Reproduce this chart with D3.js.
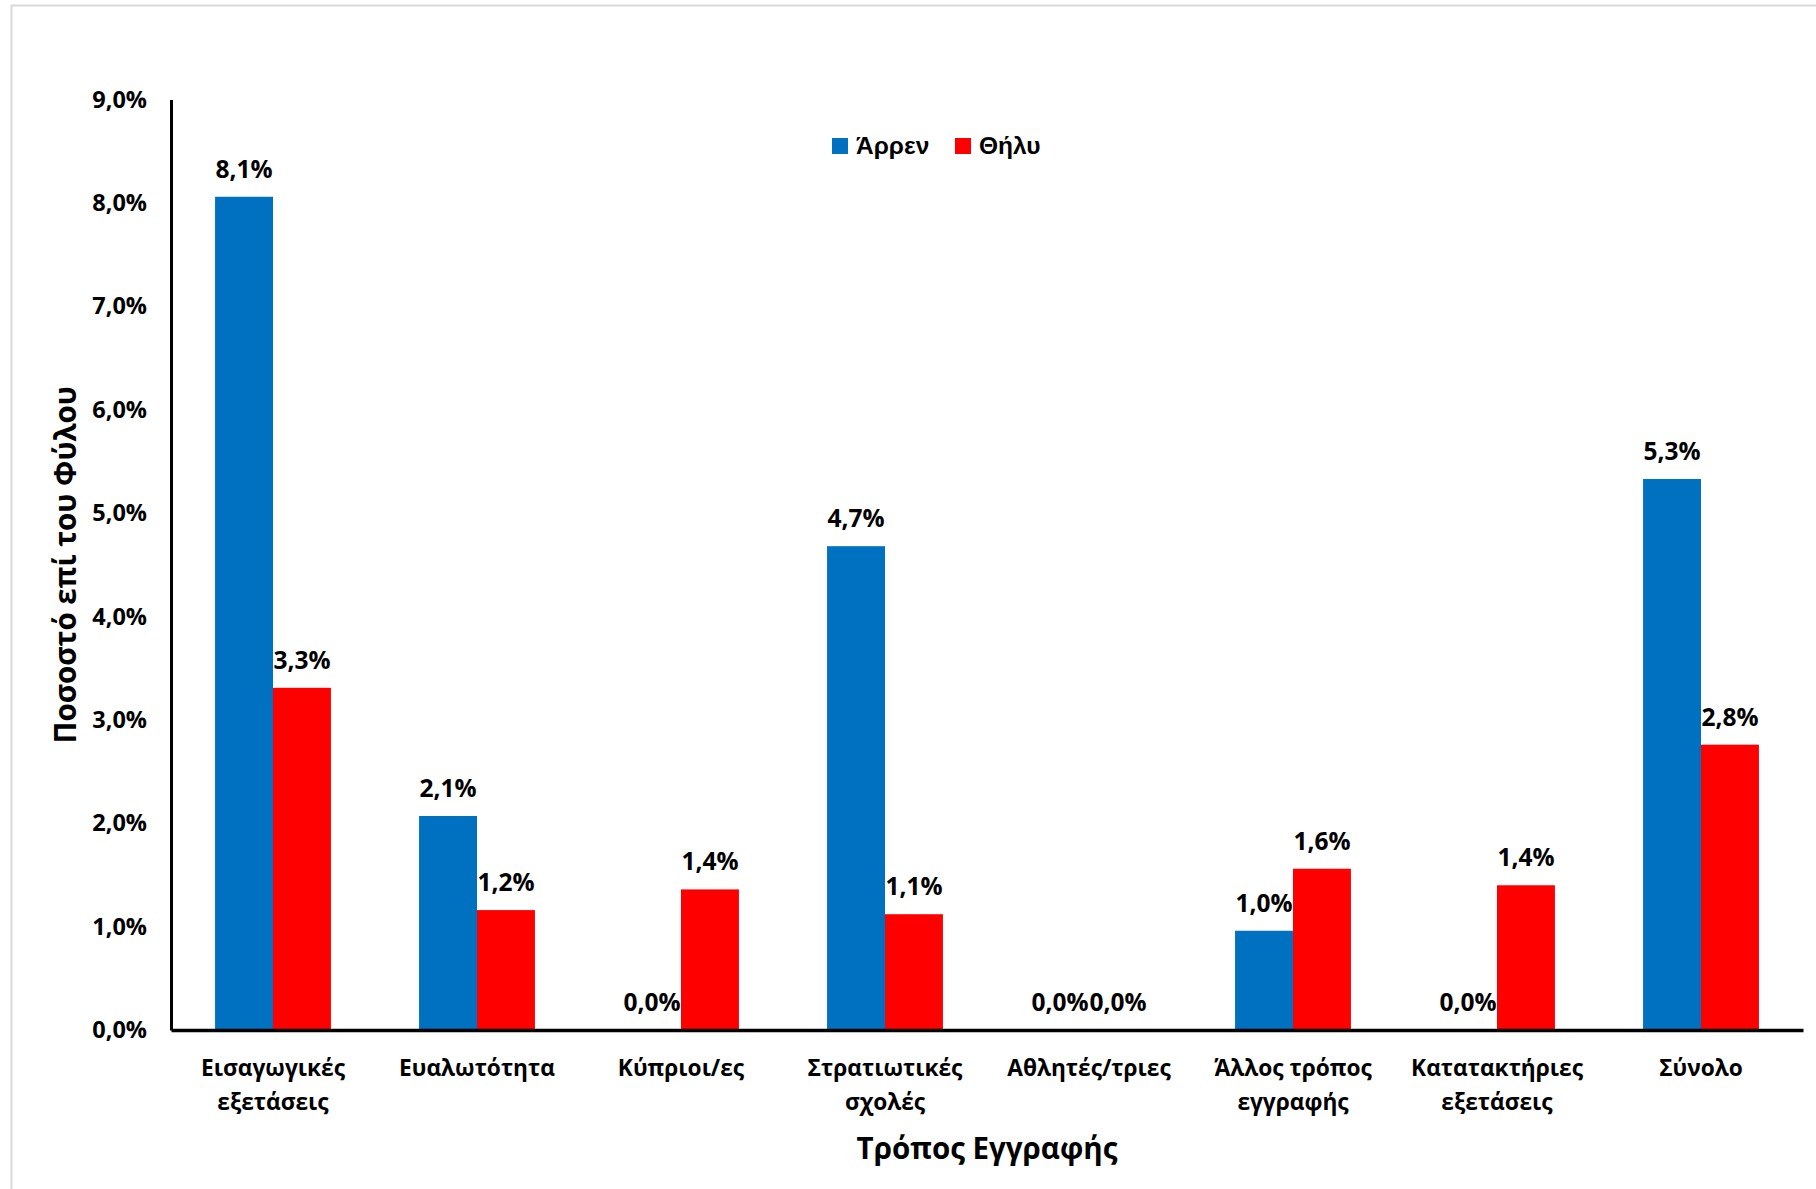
<!DOCTYPE html>
<html>
<head>
<meta charset="utf-8">
<script src="https://cdn.jsdelivr.net/npm/d3@7"></script>
<style>
  html, body { margin: 0; padding: 0; background: #fff; }
  svg { display: block; }
  text { font-family: "Open Sans", "Noto Sans", sans-serif; font-weight: bold; fill: #000; }
</style>
</head>
<body>
<script>
const categories = [
  ["Εισαγωγικές", "εξετάσεις"],
  ["Ευαλωτότητα"],
  ["Κύπριοι/ες"],
  ["Στρατιωτικές", "σχολές"],
  ["Αθλητές/τριες"],
  ["Άλλος τρόπος", "εγγραφής"],
  ["Κατατακτήριες", "εξετάσεις"],
  ["Σύνολο"]
];
const seriesNames = ["Άρρεν", "Θήλυ"];
const male   = [8.06, 2.07, 0.0, 4.68, 0.0, 0.96, 0.0, 5.33];
const female = [3.31, 1.16, 1.36, 1.12, 0.0, 1.56, 1.40, 2.76];
const yTicks = [0, 1, 2, 3, 4, 5, 6, 7, 8, 9];
const colors = ["#0070C0", "#FF0000"];

const W = 1816, H = 1189;
const mLeft = 171, mRight = 1803, mTop = 99.6, mBottom = 1030;

const svg = d3.select("body").append("svg").attr("width", W).attr("height", H);

// outer chart border
svg.append("rect").attr("x", 11.5).attr("y", 5.5).attr("width", W + 20).attr("height", H + 20)
  .attr("fill", "#fff").attr("stroke", "#d9d9d9").attr("stroke-width", 2);

const keys = categories.map((c, i) => i);
const x = d3.scaleBand().domain(keys).range([mLeft, mRight]).padding(0);
const barW = x.bandwidth() * 0.284;
const y = d3.scaleLinear().domain([0, 9]).range([mBottom, mTop]);

const fmt = v => d3.format(".1f")(v).replace(".", ",") + "%";

const data = [];
keys.forEach(i => {
  data.push({ i, s: 0, v: male[i] });
  data.push({ i, s: 1, v: female[i] });
});

const barX = d => x(d.i) + x.bandwidth() / 2 + (d.s === 0 ? -barW : 0);

svg.append("g").selectAll("rect").data(data).join("rect")
  .attr("x", barX)
  .attr("y", d => y(d.v))
  .attr("width", barW)
  .attr("height", d => mBottom - y(d.v))
  .attr("fill", d => colors[d.s]);

// data labels
svg.append("g").selectAll("text").data(data).join("text")
  .attr("x", d => barX(d) + barW / 2)
  .attr("y", d => y(d.v) - 19)
  .attr("text-anchor", "middle")
  .style("font-size", "24.5px")
  .text(d => fmt(d.v));

// y axis
const yAxis = d3.axisLeft(y).tickValues(yTicks).tickSize(0).tickPadding(24)
  .tickFormat(v => d3.format(".1f")(v).replace(".", ",") + "%");
const gy = svg.append("g").attr("transform", `translate(${mLeft},0)`).call(yAxis);
gy.select(".domain").attr("stroke", "#000").attr("stroke-width", 3);
gy.selectAll(".tick text").style("font-size", "23.5px")
  .style("font-family", "'Open Sans', sans-serif").style("font-weight", "bold").attr("fill", "#000");

// x axis
const xAxis = d3.axisBottom(x).tickSize(0).tickFormat("");
const gx = svg.append("g").attr("transform", `translate(0,${mBottom})`).call(xAxis);
gx.select(".domain").attr("stroke", "#000").attr("stroke-width", 3.5);

// category labels
const catG = svg.append("g").selectAll("text").data(keys).join("text")
  .attr("x", i => x(i) + x.bandwidth() / 2)
  .attr("y", 1076)
  .attr("text-anchor", "middle")
  .style("font-size", "22.7px");
catG.selectAll("tspan").data(i => categories[i]).join("tspan")
  .attr("x", function() { return d3.select(this.parentNode).attr("x"); })
  .attr("dy", (d, j) => j === 0 ? 0 : 34)
  .text(d => d);

// axis titles
svg.append("text")
  .attr("transform", `translate(76,${(mTop + mBottom) / 2}) rotate(-90)`)
  .attr("text-anchor", "middle")
  .style("font-size", "29.5px")
  .text("Ποσοστό επί του Φύλου");

svg.append("text")
  .attr("x", (mLeft + mRight) / 2)
  .attr("y", 1159)
  .attr("text-anchor", "middle")
  .style("font-size", "29.5px")
  .text("Τρόπος Εγγραφής");

// legend
const legend = svg.append("g");
const legX = [832, 955];
seriesNames.forEach((n, k) => {
  legend.append("rect").attr("x", legX[k]).attr("y", 138).attr("width", 16).attr("height", 16).attr("fill", colors[k]);
  legend.append("text").attr("x", legX[k] + 24).attr("y", 154)
    .style("font-size", "24.5px").style("font-family", "'Liberation Sans', Arial, sans-serif")
    .text(n);
});
</script>
</body>
</html>
